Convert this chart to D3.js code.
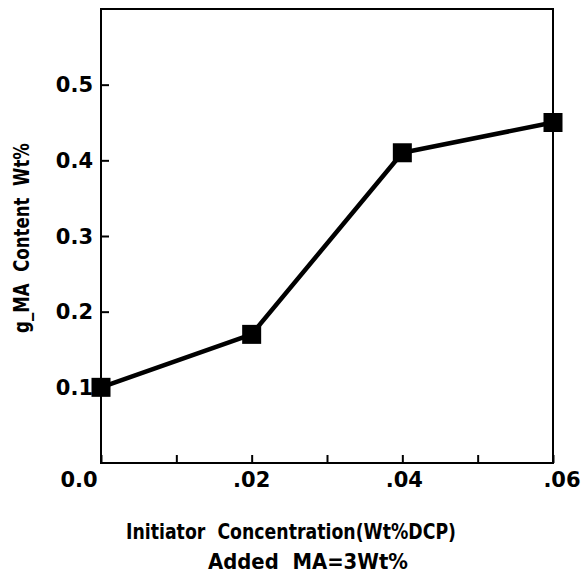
<!DOCTYPE html>
<html>
<head>
<meta charset="utf-8">
<script src="https://cdn.jsdelivr.net/npm/d3@7/dist/d3.min.js"></script>
<style>
  html, body { margin: 0; padding: 0; background: #fff; }
  svg { display: block; }
  text { font-family: "DejaVu Sans", sans-serif; font-weight: bold; fill: #000; }
</style>
</head>
<body>
<svg id="chart" width="582" height="573"></svg>
<script>
// Data
const xValues = [0.0, 0.02, 0.04, 0.06];
const yValues = [0.10, 0.17, 0.41, 0.45];
const xTickValues = [0.0, 0.02, 0.04, 0.06];
const xTickLabels = ["0.0", ".02", ".04", ".06"];
const xMinorTicks = [0.01, 0.03, 0.05];
const yTickValues = [0.1, 0.2, 0.3, 0.4, 0.5];
const yTickLabels = ["0.1", "0.2", "0.3", "0.4", "0.5"];
const xTitleLines = ["Initiator  Concentration(Wt%DCP)", "Added  MA=3Wt%"];
const yTitle = "g_MA  Content  Wt%";

const svg = d3.select("#chart");
const L = 101, R = 553, T = 9, B = 463;

const x = d3.scaleLinear().domain([0, 0.06]).range([L, R]);
const y = d3.scaleLinear().domain([0, 0.6]).range([B, T]);

// Frame
svg.append("rect")
  .attr("x", L).attr("y", T).attr("width", R - L).attr("height", B - T)
  .attr("fill", "none").attr("stroke", "#000").attr("stroke-width", 2);

// X ticks (inward)
const xAxis = d3.axisBottom(x).tickValues(xTickValues.concat(xMinorTicks))
  .tickSizeInner(-8).tickSizeOuter(0).tickFormat("");
const gx = svg.append("g").attr("transform", `translate(0,${B})`).call(xAxis);
gx.select(".domain").remove();
gx.selectAll("line").attr("stroke", "#000").attr("stroke-width", 2);

// Y ticks (inward)
const yAxis = d3.axisLeft(y).tickValues(yTickValues)
  .tickSizeInner(-8).tickSizeOuter(0).tickFormat("");
const gy = svg.append("g").attr("transform", `translate(${L},0)`).call(yAxis);
gy.select(".domain").remove();
gy.selectAll("line").attr("stroke", "#000").attr("stroke-width", 2);

// X tick labels
const xLabelOffsets = [-22, 0, 2, 9];
svg.append("g").selectAll("text").data(xTickValues).join("text")
  .attr("x", (d, i) => x(d) + xLabelOffsets[i])
  .attr("y", 487)
  .attr("text-anchor", "middle")
  .attr("font-size", 21)
  .text((d, i) => xTickLabels[i]);

// Y tick labels
svg.append("g").selectAll("text").data(yTickValues).join("text")
  .attr("x", 93)
  .attr("y", d => y(d))
  .attr("dy", "0.36em")
  .attr("text-anchor", "end")
  .attr("font-size", 21)
  .text((d, i) => yTickLabels[i]);

// Line
const line = d3.line().x((d, i) => x(xValues[i])).y(d => y(d));
svg.append("path").datum(yValues)
  .attr("d", line)
  .attr("fill", "none").attr("stroke", "#000").attr("stroke-width", 4.5)
  .attr("stroke-linejoin", "round");

// Markers
const ms = 19;
svg.append("g").selectAll("rect").data(yValues).join("rect")
  .attr("x", (d, i) => x(xValues[i]) - ms / 2)
  .attr("y", d => y(d) - ms / 2)
  .attr("width", ms).attr("height", ms)
  .attr("fill", "#000");

// X title
const xTitleY = [539, 569];
const xTitleX = [291, 308];
const xTitleLen = [330, 200];
svg.append("g").selectAll("text").data(xTitleLines).join("text")
  .attr("x", (d, i) => xTitleX[i])
  .attr("y", (d, i) => xTitleY[i])
  .attr("text-anchor", "middle")
  .attr("font-size", 22)
  .style("white-space", "pre")
  .attr("textLength", (d, i) => xTitleLen[i])
  .attr("lengthAdjust", "spacingAndGlyphs")
  .text(d => d);

// Y title
svg.append("text")
  .attr("transform", "translate(29,238) rotate(-90)")
  .attr("text-anchor", "middle")
  .attr("font-size", 22)
  .style("white-space", "pre")
  .attr("textLength", 190)
  .attr("lengthAdjust", "spacingAndGlyphs")
  .text(yTitle);
</script>
</body>
</html>
